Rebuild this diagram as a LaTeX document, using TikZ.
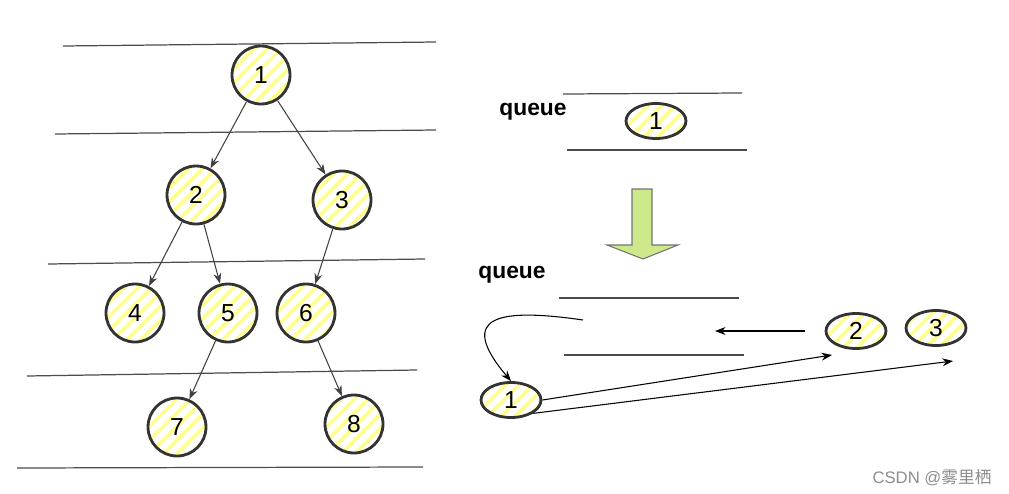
\documentclass[tikz,border=0pt]{standalone}
\usepackage{fontspec}
\setmainfont{Liberation Sans}
\newfontfamily\cjk{Noto Sans CJK SC}
\usetikzlibrary{shapes.geometric,arrows.meta,patterns.meta}
\definecolor{stripe}{HTML}{FFFF8C}
\definecolor{rim}{HTML}{333333}
\definecolor{arrowgreen}{HTML}{CDE98C}
\begin{document}
\begin{tikzpicture}[x=0.02cm, y=-0.02cm,
  tnode/.style={circle, draw=rim, line width=1.6pt, minimum size=1.16cm, inner sep=0pt,
    pattern={Lines[angle=45,distance=5.5pt,line width=2pt]}, pattern color=stripe,
    font=\fontsize{14}{16}\selectfont},
  qnode/.style={ellipse, draw=rim, line width=1.6pt, minimum width=1.2cm, minimum height=0.7cm, inner sep=0pt,
    pattern={Lines[angle=45,distance=5.5pt,line width=2pt]}, pattern color=stripe,
    font=\fontsize{14}{16}\selectfont},
  edge/.style={draw=black!75, line width=0.6pt, -{Stealth[length=6pt,width=4.5pt]}},
  lane/.style={draw=black!70, line width=0.7pt},
  qlabel/.style={font=\bfseries\fontsize{13}{15}\selectfont}]
  \useasboundingbox (0,0) rectangle (1009,494);

  % level lines
  \draw[lane] (63,46) -- (436,42);
  \draw[lane] (55,134) -- (436,130);
  \draw[lane] (48,264) -- (425,259);
  \draw[lane] (27,376) -- (417,370);
  \draw[lane] (17,468) -- (423,467);

  % tree
  \node[tnode] (n1) at (261,75) {1};
  \node[tnode] (n2) at (196,195) {2};
  \node[tnode] (n3) at (342,200) {3};
  \node[tnode] (n4) at (135,313) {4};
  \node[tnode] (n5) at (228,313) {5};
  \node[tnode] (n6) at (306,313) {6};
  \node[tnode] (n7) at (177,427) {7};
  \node[tnode] (n8) at (354,424) {8};

  \draw[edge] (n1) -- (n2);
  \draw[edge] (n1) -- (n3);
  \draw[edge] (n2) -- (n4);
  \draw[edge] (n2) -- (n5);
  \draw[edge] (n3) -- (n6);
  \draw[edge] (n5) -- (n7);
  \draw[edge] (n6) -- (n8);

  % queue, first state
  \node[qlabel] (qa) at (533,112) {queue};
  \draw[lane] (563,94) -- (742,93);
  \draw[lane] (567,150) -- (747,150);
  \node[qnode] (q1) at (656,121) {1};

  % big arrow
  \draw[fill=arrowgreen, draw=black!55, line width=0.6pt]
    (632,189) -- (652,189) -- (652,245) -- (678,245) -- (643,259) -- (607,245) -- (632,245) -- cycle;

  % queue, second state
  \node[qlabel] (qb) at (512,275) {queue};
  \draw[lane] (559,298) -- (739,298);
  \draw[lane] (564,355) -- (744,355);
  \node[qnode] (r1) at (511,400) {1};
  \node[qnode] (r2) at (856,331) {2};
  \node[qnode] (r3) at (936,328) {3};

  \coordinate (out) at (583,320);
  \coordinate (inr) at (805,331);
  \coordinate (inl) at (715,331);
  \coordinate (to2) at (832,355);
  \coordinate (to3) at (953,361);

  \draw[edge, draw=black] (out) .. controls (500,308) and (455,315) .. (r1.north);
  \draw[edge, draw=black] (inr) -- (inl);
  \draw[edge, draw=black] (r1.east) -- (to2);
  \draw[edge, draw=black] (r1.south east) -- (to3);

  \node[text=black!45, font=\fontsize{9.5}{11}\selectfont] (mark) at (932,478) {CSDN @{\cjk 雾里栖}};
\end{tikzpicture}
\end{document}
